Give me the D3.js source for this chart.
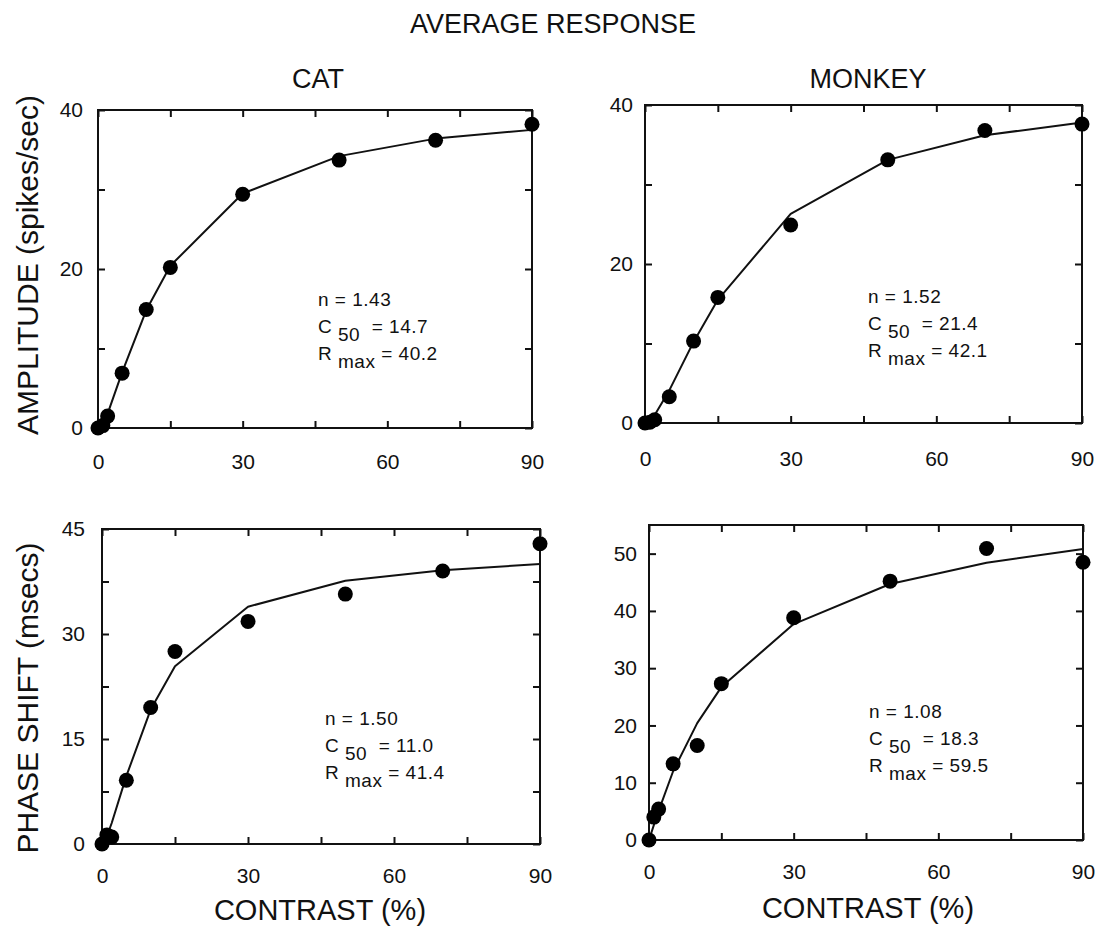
<!DOCTYPE html>
<html>
<head>
<meta charset="utf-8">
<script src="https://cdn.jsdelivr.net/npm/d3@7"></script>
<style>
  html, body { margin: 0; padding: 0; background: #fff; }
  svg { display: block; }
  text { font-family: "Liberation Sans", Arial, Helvetica, sans-serif; fill: #111; }
</style>
</head>
<body>
<svg id="chart" width="1107" height="937"></svg>
<script>
// ---- data ----
const contrast = [0, 1, 2, 5, 10, 15, 30, 50, 70, 90];

const catAmpPts     = [0, 0.3, 1.5, 6.9, 14.9, 20.2, 29.4, 33.7, 36.2, 38.2];
const catAmpFit     = [0, 0.6, 1.8, 7.0, 14.8, 20.4, 29.5, 34.2, 36.4, 37.5];
const monkeyAmpPts  = [0, 0.1, 0.4, 3.3, 10.3, 15.8, 24.9, 33.1, 36.8, 37.6];
const monkeyAmpFit  = [0, 0.3, 1.0, 4.1, 10.2, 15.5, 26.3, 33.1, 36.2, 37.8];
const catPhasePts   = [0, 1.3, 1.0, 9.1, 19.5, 27.5, 31.8, 35.7, 39.0, 42.9];
const catPhaseFit   = [0, 1.1, 3.0, 9.7, 19.2, 25.4, 33.9, 37.6, 39.1, 40.0];
const monkeyPhasePts = [0, 4.0, 5.4, 13.3, 16.5, 27.3, 38.8, 45.2, 50.9, 48.5];
const monkeyPhaseFit = [0, 2.6, 5.1, 12.0, 20.4, 26.7, 37.7, 44.7, 48.4, 50.8];

const xTicks = [0, 15, 30, 45, 60, 75, 90];
const xTickLabels = [0, 30, 60, 90];
const ampTicks = [0, 10, 20, 30, 40];
const ampTickLabels = [0, 20, 40];
const catPhaseTicks = [0, 7.5, 15, 22.5, 30, 37.5, 45];
const catPhaseTickLabels = [0, 15, 30, 45];
const monkeyPhaseTicks = [0, 10, 20, 30, 40, 50];
const monkeyPhaseTickLabels = [0, 10, 20, 30, 40, 50];

const fitParams = {
  catAmp:    ["1.43", "14.7", "40.2"],
  monkeyAmp: ["1.52", "21.4", "42.1"],
  catPhase:  ["1.50", "11.0", "41.4"],
  monkeyPhase: ["1.08", "18.3", "59.5"]
};

const title = "AVERAGE RESPONSE";
const colTitles = ["CAT", "MONKEY"];
const yTitles = ["AMPLITUDE (spikes/sec)", "PHASE SHIFT (msecs)"];
const xTitle = "CONTRAST (%)";

// ---- drawing ----
const svg = d3.select("#chart");

svg.append("text").attr("x", 553).attr("y", 33).attr("text-anchor", "middle")
  .attr("font-size", 27).text(title);
svg.append("text").attr("x", 318).attr("y", 88).attr("text-anchor", "middle")
  .attr("font-size", 27).text(colTitles[0]);
svg.append("text").attr("x", 868).attr("y", 88).attr("text-anchor", "middle")
  .attr("font-size", 27).text(colTitles[1]);

svg.append("text").attr("transform", "translate(38,265) rotate(-90)")
  .attr("text-anchor", "middle").attr("font-size", 30).text(yTitles[0]);
svg.append("text").attr("transform", "translate(38,698) rotate(-90)")
  .attr("text-anchor", "middle").attr("font-size", 30).text(yTitles[1]);

svg.append("text").attr("x", 320).attr("y", 920).attr("text-anchor", "middle")
  .attr("font-size", 29).text(xTitle);
svg.append("text").attr("x", 868).attr("y", 918).attr("text-anchor", "middle")
  .attr("font-size", 29).text(xTitle);

function panel(cfg) {
  const { left, right, top, bottom, yMax, pts, fit, yTicks, yLabels, params, ann } = cfg;
  const x = d3.scaleLinear().domain([0, 90]).range([left, right]);
  const y = d3.scaleLinear().domain([0, yMax]).range([bottom, top]);
  const g = svg.append("g");
  const tick = 7;

  // frame
  g.append("rect").attr("x", left).attr("y", top)
    .attr("width", right - left).attr("height", bottom - top)
    .attr("fill", "none").attr("stroke", "#111").attr("stroke-width", 2);

  const fmtX = d => xTickLabels.includes(d) ? d : "";
  const fmtY = d => yLabels.includes(d) ? d : "";

  const axB = g.append("g").attr("transform", `translate(0,${bottom})`)
    .call(d3.axisBottom(x).tickValues(xTicks).tickSize(-tick).tickPadding(cfg.xPad).tickFormat(fmtX));
  const axT = g.append("g").attr("transform", `translate(0,${top})`)
    .call(d3.axisTop(x).tickValues(xTicks).tickSize(-tick).tickFormat(() => ""));
  const axL = g.append("g").attr("transform", `translate(${left},0)`)
    .call(d3.axisLeft(y).tickValues(yTicks).tickSize(-tick).tickPadding(cfg.yPad).tickFormat(fmtY));
  const axR = g.append("g").attr("transform", `translate(${right},0)`)
    .call(d3.axisRight(y).tickValues(yTicks).tickSize(-tick).tickFormat(() => ""));

  [axB, axT, axL, axR].forEach(a => {
    a.select(".domain").remove();
    a.selectAll("line").attr("stroke", "#111").attr("stroke-width", 2);
    a.selectAll("text").attr("font-size", 21).attr("fill", "#111")
      .attr("font-family", '"Liberation Sans", Arial, sans-serif');
  });

  // fit line
  const line = d3.line().x((d, i) => x(contrast[i])).y(d => y(d));
  g.append("path").datum(fit).attr("d", line)
    .attr("fill", "none").attr("stroke", "#111").attr("stroke-width", 2)
    .attr("stroke-linejoin", "round");

  // data points
  g.selectAll("circle.pt").data(pts).join("circle")
    .attr("class", "pt")
    .attr("cx", (d, i) => x(contrast[i])).attr("cy", d => y(d))
    .attr("r", 7.5).attr("fill", "#000");

  // annotation
  const fs = 19;
  const a = g.append("g").attr("transform", `translate(${ann[0]},${ann[1]})`)
    .style("letter-spacing", "0.5px");
  a.append("text").attr("x", 0).attr("y", 0).attr("font-size", fs)
    .attr("xml:space", "preserve").text(`n = ${params[0]}`);
  const t2 = a.append("text").attr("x", 0).attr("y", 27).attr("font-size", fs).attr("xml:space", "preserve");
  t2.append("tspan").text("C ");
  t2.append("tspan").attr("dy", 8).text("50");
  t2.append("tspan").attr("dy", -8).text(`  = ${params[1]}`);
  const t3 = a.append("text").attr("x", 0).attr("y", 54).attr("font-size", fs).attr("xml:space", "preserve");
  t3.append("tspan").text("R ");
  t3.append("tspan").attr("dy", 8).text("max");
  t3.append("tspan").attr("dy", -8).text(` = ${params[2]}`);
}

panel({ left: 98, right: 532, top: 110, bottom: 428, yMax: 40,
  pts: catAmpPts, fit: catAmpFit, yTicks: ampTicks, yLabels: ampTickLabels,
  params: fitParams.catAmp, ann: [318, 306], xPad: 26, yPad: 15 });
panel({ left: 645, right: 1082, top: 105, bottom: 423, yMax: 40,
  pts: monkeyAmpPts, fit: monkeyAmpFit, yTicks: ampTicks, yLabels: ampTickLabels,
  params: fitParams.monkeyAmp, ann: [868, 303], xPad: 28, yPad: 12 });
panel({ left: 102, right: 540, top: 529, bottom: 844, yMax: 45,
  pts: catPhasePts, fit: catPhaseFit, yTicks: catPhaseTicks, yLabels: catPhaseTickLabels,
  params: fitParams.catPhase, ann: [325, 725], xPad: 24, yPad: 17 });
panel({ left: 649, right: 1083, top: 525, bottom: 840, yMax: 55,
  pts: monkeyPhasePts, fit: monkeyPhaseFit, yTicks: monkeyPhaseTicks, yLabels: monkeyPhaseTickLabels,
  params: fitParams.monkeyPhase, ann: [869, 718], xPad: 24, yPad: 12 });
</script>
</body>
</html>
